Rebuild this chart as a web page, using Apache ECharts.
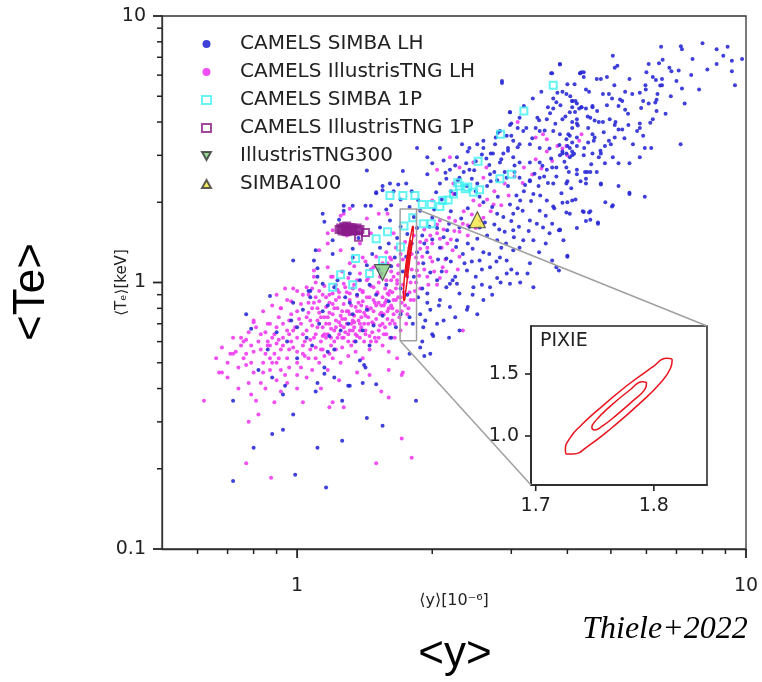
<!DOCTYPE html>
<html><head><meta charset="utf-8">
<script src="https://cdn.jsdelivr.net/npm/echarts@6/dist/echarts.min.js"></script>
<style>html,body{margin:0;padding:0;background:#fff}#c{width:762px;height:682px}</style>
</head><body><div id="c"></div>
<script>
// ---- tick values ----
const xMajorTicks = [1, 10];
const xMinorTicks = [0.6, 0.7, 0.8, 0.9, 2, 3, 4, 5, 6, 7, 8, 9];
const yMajorTicks = [0.1, 1, 10];
const yMinorTicks = [0.2, 0.3, 0.4, 0.5, 0.6, 0.7, 0.8, 0.9, 2, 3, 4, 5, 6, 7, 8, 9];
const insetXTicks = [1.7, 1.8];
const insetYTicks = [1.0, 1.5];
const xRange = [0.5, 10];
const yRange = [0.1, 10];
const zoomBoxX = [1.696, 1.845];
const zoomBoxY = [0.605, 1.887];
const legendNames = ['CAMELS SIMBA LH', 'CAMELS IllustrisTNG LH', 'CAMELS SIMBA 1P', 'CAMELS IllustrisTNG 1P', 'IllustrisTNG300', 'SIMBA100'];

// ---- data ----
const simbaLH = [
[0.72,0.36],[0.72,0.18],[0.80,0.24],[0.88,0.27],[0.93,0.28],[0.94,0.41],[0.93,0.38],[0.88,0.44],[0.98,0.32],[0.99,0.19],
[1.11,0.24],[1.16,0.17],[1.11,0.42],[1.10,0.39],[1.15,0.455],[1.21,0.44],[1.26,0.36],[1.26,0.255],[1.30,0.41],[1.40,0.42],
[1.41,0.49],[1.43,0.31],[1.50,0.415],[1.55,0.29],[1.84,0.36],[0.87,0.89],[0.77,0.76],[0.79,0.67],[0.82,0.47],[0.86,0.56],
[0.97,0.72],[1.00,0.52],[0.98,0.84],[1.11,1.05],[1.06,0.93],[1.15,0.48],[1.17,0.55],[1.21,0.56],[1.31,0.41],[1.42,0.48],
[1.38,0.51],[1.18,0.63],[1.48,0.69],[1.33,0.76],[1.43,0.79],[1.31,0.84],[1.17,0.82],[1.03,0.79],[1.07,0.88],[1.21,0.96],
[1.38,1.02],[1.14,1.81],[0.98,1.21],[1.27,1.94],[1.33,1.94],[1.42,1.94],[1.55,2.30],[1.68,2.33],[1.24,1.72],[1.20,1.44],
[1.10,1.32],[1.33,1.34],[1.43,2.63],[1.50,2.16],[1.55,2.22],[1.75,2.35],[1.15,1.69],[1.27,1.86],[1.46,1.94],[1.20,1.28],
[1.09,1.21],[1.11,1.13],[1.37,1.47],[1.33,1.24],[1.43,1.16],[1.31,1.08],[1.23,1.02],[1.47,1.28],[1.65,1.24],[1.67,1.47],
[1.53,1.35],[1.61,1.71],[1.53,1.61],[1.14,0.99],[1.07,0.93],[1.61,2.35],[1.50,2.18],[1.85,3.20],[1.95,2.95],
[1.88,1.86],[2.00,1.75],[2.16,1.57],[2.30,1.61],[2.27,1.44],[2.08,1.35],[2.15,1.23],[2.34,1.28],[2.39,1.11],[2.55,1.21],
[2.69,1.14],[2.83,1.24],[2.93,1.08],[2.69,0.96],[2.47,0.96],[2.27,0.99],[2.15,0.96],[2.05,1.02],[1.98,1.09],[1.91,1.18],
[1.95,0.91],[2.08,0.86],[2.19,0.81],[2.39,0.79],[1.88,0.76],[1.91,0.68],[2.00,0.64],[1.98,0.54],[1.88,0.57],[2.55,1.61],
[2.79,1.44],[3.03,1.57],[3.19,1.44],[3.03,1.81],[3.30,1.71],[3.47,1.86],[3.70,1.66],[3.83,1.57],[3.30,1.18],[3.70,1.21],
[3.83,1.11],[3.36,0.96],[3.03,1.32],[2.79,1.81],[3.14,2.03],[3.36,2.15],[3.60,2.03],[3.90,1.99],[4.05,1.81],[2.30,0.66],
[1.81,0.70],[1.98,0.79],[1.78,0.54],[1.78,0.74],[1.70,0.76],[2.07,0.82],[2.40,0.81],[1.93,0.72],[2.01,0.63],[1.90,0.60],
[1.92,0.53],[5.50,2.15],[5.95,2.10],[5.05,1.95],[4.68,1.68],[4.50,1.85],[4.33,1.85],[4.00,1.26],[3.78,1.14],[2.98,0.99],
[3.09,1.08],[2.79,1.04],[2.93,1.21],[3.13,1.35],[3.36,1.44],[3.53,1.61],[3.65,1.53],[3.85,1.57],[4.10,2.03],[3.72,1.93],
[4.00,2.40],[4.20,2.55],[4.43,2.60],[4.75,2.35],[2.60,0.86],[2.52,0.76],[2.30,0.91],[2.19,0.99],
[1.05,0.62],[1.12,0.70],[1.25,0.66],[1.35,0.60],[1.45,0.58],[1.50,0.90],[1.55,0.75],[1.60,0.85],[1.62,0.62],[1.66,0.68],
[1.58,0.98],[1.70,0.95],[1.72,1.10],[1.75,1.25],[1.80,1.40],[1.85,1.60],[1.90,1.50],[1.76,0.90],[1.82,1.05],[1.70,1.62],
[1.60,1.40],[1.62,1.15],[1.52,1.12],[1.45,0.98],[1.28,0.88],[0.95,0.60],[0.90,0.65],[1.00,0.68],[1.08,0.58],[1.30,0.70],
[1.40,0.66],[1.36,0.90],[1.14,0.78],[1.90,0.95],[1.95,1.30],[2.00,1.45],[2.05,1.60],[2.10,1.10],[2.20,1.20],[2.25,1.05],
[2.40,1.40],[2.45,1.20],[2.50,1.05],[2.60,1.30],[2.65,1.50],[2.75,1.65],[2.85,1.35],[2.90,1.55],[3.00,1.70],[3.10,1.90],
[3.20,2.20],[3.30,2.40],[3.45,2.30],[3.55,2.50],[3.70,2.70],[2.20,1.85],[2.40,1.90],[2.60,2.00],[2.80,2.10],[2.95,2.30],
[3.05,2.60],[2.50,2.20],[2.70,2.40],[2.90,2.60],[2.35,2.60],[2.20,2.20],[2.55,2.10],[2.65,2.30],[2.75,2.60],[2.85,2.90],
[2.95,3.20],[3.05,2.75],[2.70,3.05],[2.45,2.45],[2.50,2.85],[2.40,3.10],[2.25,2.75],[2.15,2.45],[2.10,2.05],[2.25,2.15],
[2.60,3.40],[2.80,3.65],[2.86,5.70],[2.98,4.35],[3.00,3.95],[3.20,4.60],[3.35,4.90],[3.50,5.20],[3.70,6.10],[3.85,6.60],
[4.30,6.15],[4.27,6.10],[5.05,7.10],[5.17,6.50],[4.55,4.60],[4.30,4.55],
[6.47,7.67],[7.16,7.70],[7.20,7.50],[8.00,7.90],[8.60,7.50],[9.10,7.67],[9.80,6.90],[9.30,6.80],[9.30,6.20],[9.45,5.50],
[8.60,6.60],[7.60,6.90],[7.86,5.30],[7.20,5.35],[7.08,6.25],[6.75,6.40],[6.82,6.20],[6.52,6.85],[6.40,6.65],[6.07,6.60],
[6.00,6.15],[6.20,5.90],[6.30,5.75],[6.50,5.80],[6.50,5.50],[5.97,5.50],[6.35,5.10],[6.32,4.85],[6.07,4.70],[5.90,4.80],
[6.32,4.40],[6.20,4.10],[5.80,5.15],[5.50,5.80],[5.38,5.20],[5.09,5.50],[5.10,6.40],[4.90,5.90],[4.75,5.80],[4.65,5.80],
[4.80,5.10],[4.95,5.10],[5.03,4.90],[5.20,4.60],[5.30,4.80],[5.38,4.45],[5.47,3.90],[5.30,3.75],[5.20,3.75],[5.10,3.90],
[4.97,4.10],[4.80,4.00],[4.70,4.00],[4.60,4.05],[4.50,4.15],[4.55,4.55],[4.40,4.50],[4.17,4.80],[4.10,4.55],[4.25,4.50],
[4.20,4.10],[4.20,3.95],[4.10,3.80],[4.05,3.55],[4.20,3.50],[4.10,3.35],[4.00,3.25],[3.90,3.10],[3.90,3.05],[4.10,3.10],
[4.45,3.80],[4.55,3.60],[4.60,3.50],[4.45,3.35],[4.95,3.40],[5.10,3.50],[4.85,3.25],[5.05,2.95],[5.20,2.80],[4.85,2.80],
[4.75,3.05],[4.70,2.95],[4.55,3.05],[4.35,3.00],[4.05,2.95],[4.03,2.60],[4.38,2.60],[4.50,2.60],[4.65,2.60],[4.40,2.45],
[4.40,2.35],[4.75,2.33],[5.50,2.80],[5.80,2.95],[5.60,3.30],[5.95,3.20],[6.15,3.20],[5.80,3.80],[5.90,3.55],[5.80,3.95],
[7.15,3.30],[5.50,2.17],[5.03,1.93],[4.17,2.05],[4.00,2.00],[3.98,1.83],[4.35,1.84],[4.47,1.83],[4.50,1.72],[4.68,1.66],
[3.85,1.58],[4.00,1.25],[3.85,6.58],[4.27,6.10],[4.35,6.15],[4.35,5.90],[4.15,5.55],[4.00,5.55],[3.90,5.20],[4.40,5.30],
[4.47,5.20],[4.10,4.80],[4.30,4.55],[3.68,6.10],[3.80,5.15],[3.98,5.10],[2.86,5.60],[3.72,4.90],[3.78,4.75],[4.10,4.80],
[4.20,4.70],[3.62,4.55],[3.72,4.50],[4.05,4.35],[2.98,4.35],[3.13,4.15],[3.43,4.15],[3.60,4.10],[3.90,4.10],[4.10,4.00],
[2.98,3.90],[3.10,3.80],[3.19,3.70],[3.40,3.80],[3.47,3.70],[3.72,3.70],[3.85,3.60],[3.98,3.45],[4.05,3.20],[4.20,3.25],
[2.83,3.70],[2.77,3.50],[2.93,3.55],[3.03,3.40],[3.13,3.30],[3.30,3.30],[3.47,3.20],[3.65,3.18],[3.85,3.00],[3.98,3.05],
[4.10,3.00],[2.95,3.12],[2.73,3.05],[2.60,3.20],[2.52,3.30],[2.42,3.20],[2.33,3.30],[2.64,2.92],[2.83,2.82],[3.03,2.95],
[3.13,2.82],[3.30,2.82],[3.47,2.82],[3.60,2.65],[3.78,2.70],[3.98,2.70],[4.20,2.65],[2.27,2.95],[2.08,3.20],[2.12,2.87],
[2.00,2.80],[1.95,2.55],[2.19,2.65],[2.30,2.47],[2.42,2.65],[2.52,2.35],[2.69,2.55],[2.79,2.42],[2.93,2.47],[3.13,2.47],
[3.30,2.42],[3.47,2.47],[3.72,2.35],[3.98,2.35],[2.39,2.30],[2.08,2.35],
[1.85,1.30],[1.92,1.40],[1.97,1.62],[2.02,1.88],[2.06,1.22],[2.12,1.48],[2.18,1.66],[2.22,1.02],[2.26,1.36],[2.32,1.74],
[2.36,1.18],[2.42,1.62],[2.46,1.34],[2.52,1.46],[2.58,1.12],[2.62,1.68],[2.68,1.28],[2.72,1.92],[2.78,1.20],[2.82,1.58],
[2.88,1.76],[2.92,1.40],[2.98,1.96],[3.04,1.48],[3.08,2.12],[3.12,1.62],[3.18,1.86],[3.22,2.32],[3.28,1.56],[3.32,2.02],
[3.38,2.56],[3.42,1.66],[3.48,2.12],[3.52,2.74],[3.58,1.78],[3.62,2.36],[3.68,2.92],[3.74,1.90],[3.78,2.50],[3.84,3.28],
[3.88,2.16],[3.94,2.84],[4.02,3.60],[4.08,2.26],[4.14,3.04],[4.22,3.88],[4.28,2.40],[4.36,3.20],[4.44,4.20],[4.52,2.78],
[4.58,3.40],[4.66,4.40],[4.74,3.12],[4.82,3.66],[4.90,4.62],[5.00,3.30],[5.12,4.00],[5.24,4.86],[5.36,3.48],[5.46,4.30],
[5.58,5.10],[5.72,3.70],[5.84,4.52],[5.98,5.30],[6.12,3.98],[6.28,4.74],[6.44,5.48],[6.62,4.30],[6.80,5.00],[7.00,5.70],
[7.30,4.70],[7.55,6.00],[8.20,6.30],[8.90,7.10],[2.04,2.18],[2.14,2.58],[2.28,2.42],[2.38,2.80],[2.48,2.64],[2.58,3.02],
[2.68,2.76],[2.76,3.30],[2.88,3.05],[3.00,3.55],[3.10,3.22],[3.24,3.80],[3.34,3.48],[3.46,4.06],[3.56,3.72],[3.66,4.32],
[3.76,3.94],[3.86,4.62],[3.96,4.20],[4.06,5.00],[4.16,4.36],[1.76,1.52],[1.82,1.76],[1.86,2.04],[1.78,1.92],[1.70,2.05],
[1.62,1.95],[1.64,2.20],[1.58,1.88],[1.72,2.62],[1.80,2.20],[2.46,0.90],[2.58,0.98],[2.72,0.90],[2.84,1.00],[3.00,1.12],
[3.14,1.00],[3.26,1.08],[3.46,1.30],[3.58,1.40],[3.92,1.44],[4.20,1.60],[4.40,1.70],[4.86,2.00],[5.20,2.30],[2.12,0.72],
[2.25,0.74],[2.18,0.62],[2.05,0.70],[1.95,0.84],[1.86,0.88]
];

const tngLH = [
[0.90,0.50],[0.92,0.56],[0.95,0.52],[0.97,0.60],[0.98,0.66],[1.00,0.55],[1.00,0.62],[1.02,0.70],[1.03,0.58],[1.05,0.66],
[1.05,0.74],[1.06,0.52],[1.07,0.61],[1.08,0.69],[1.08,0.80],[1.10,0.57],[1.10,0.64],[1.11,0.72],[1.12,0.77],[1.12,0.85],
[1.13,0.60],[1.14,0.68],[1.15,0.53],[1.15,0.74],[1.16,0.81],[1.17,0.64],[1.18,0.70],[1.18,0.90],[1.19,0.58],[1.20,0.76],
[1.20,0.83],[1.21,0.66],[1.22,0.72],[1.23,0.62],[1.23,0.80],[1.24,0.88],[1.25,0.69],[1.25,0.75],[1.26,0.57],[1.27,0.83],
[1.28,0.65],[1.28,0.73],[1.29,0.92],[1.30,0.78],[1.30,0.60],[1.31,0.86],[1.32,0.70],[1.33,0.66],[1.33,0.95],[1.34,0.75],
[1.35,0.81],[1.36,0.63],[1.36,0.89],[1.37,0.72],[1.38,0.78],[1.39,0.68],[1.40,0.85],[1.40,0.93],[1.41,0.60],[1.42,0.75],
[1.43,0.81],[1.44,0.70],[1.45,0.88],[1.46,0.97],[1.47,0.65],[1.48,0.78],[1.49,0.84],[1.50,0.73],[1.51,0.92],[1.52,1.00],
[1.53,0.69],[1.54,0.82],[1.55,0.88],[1.56,0.76],[1.57,0.95],[1.58,0.64],[1.60,0.80],[1.60,0.90],[1.62,1.02],[1.63,0.72],
[1.64,0.86],[1.66,0.95],[1.67,0.78],[1.68,1.08],[1.70,0.88],[1.72,0.98],[1.74,0.82],[1.76,1.05],[1.78,0.92],[1.80,1.12],
[1.82,0.86],[1.84,1.00],[1.86,1.18],[1.88,0.95],
[0.80,0.55],[0.82,0.60],[0.84,0.50],[0.85,0.65],[0.86,0.58],[0.87,0.70],[0.88,0.62],[0.89,0.54],[0.90,0.68],[0.91,0.74],
[0.93,0.62],[0.94,0.45],[0.96,0.48],[0.75,0.58],[0.76,0.52],[0.78,0.65],[0.72,0.62],[0.73,0.55],[0.70,0.50],[0.68,0.57],
[0.80,0.46],[0.83,0.42],[0.87,0.47],[0.90,0.43],[0.95,0.42],[1.00,0.45],[1.02,0.48],[1.05,0.44],[1.08,0.47],[1.12,0.50],
[1.17,0.47],[1.20,0.52],[1.25,0.50],[1.30,0.53],[1.35,0.55],[1.40,0.52],[1.45,0.56],[1.50,0.60],[1.55,0.58],[1.60,0.55],
[1.65,0.62],[1.70,0.66],[1.75,0.70],[1.00,0.78],[0.96,0.72],[0.92,0.80],[0.97,0.85],[1.03,0.90],[1.08,0.95],[1.10,1.00],
[1.15,0.97],[1.19,1.05],[1.22,0.98],[1.26,1.10],[1.30,1.04],[1.34,1.15],[1.38,1.08],[1.42,1.20],[1.46,1.12],[1.50,1.25],
[1.55,1.18],[1.58,1.30],[1.62,1.22],[1.66,1.35],[1.70,1.28],[1.74,1.42],[1.78,1.35],[1.82,1.50],[1.88,1.42],[1.92,1.58],
[1.98,1.50],[2.05,1.65],[2.12,1.58],[2.18,1.75],[2.25,1.70],[2.35,1.85],[2.45,1.80],[2.55,1.95],[2.65,2.05],[2.75,2.20],
[2.90,2.35],[3.05,2.50],[3.20,2.70],[3.40,2.90],[3.60,3.10],[3.80,3.25],[2.00,1.20],[2.10,1.35],[2.20,1.45],[2.30,1.55],
[1.95,1.05],[1.90,1.25],[2.05,0.98],[2.15,1.10],[2.30,1.25],[2.40,1.50],[2.50,1.60],[2.60,1.75],[2.70,1.85],[2.85,1.95],
[1.27,1.81],[1.17,1.53],[1.09,1.11],[1.00,0.93],[0.95,0.86],[0.86,0.70],[0.90,0.59],[0.72,0.54],[0.67,0.46],[0.77,0.61],
[1.31,1.89],[1.25,1.78],[1.43,1.74],[1.52,1.81],[1.20,1.57],[1.29,1.50],[1.38,1.40],[1.46,1.53],[1.17,1.40],[1.12,1.32],
[1.25,1.32],[1.31,1.18],[1.40,1.24],[1.48,1.14],[1.59,1.18],[1.17,1.14],[1.09,1.05],[1.20,1.05],[1.27,0.99],[1.36,1.02],
[1.43,1.02],[1.53,1.05],[1.64,1.05],[1.05,0.96],[1.12,0.93],[1.20,0.91],[1.31,0.91],[1.40,0.92],[1.51,0.91],[1.61,0.93],
[1.67,0.99],[1.59,1.81],[1.64,1.53],[1.61,1.24],[1.67,1.02],[1.59,0.91],[1.64,0.76],[1.61,0.62],[1.67,0.52],[1.72,0.46],
[2.34,0.66],[1.95,1.35],[2.05,1.53],[1.98,1.24],[1.85,1.11],[2.11,1.14],[2.23,2.15],[2.47,2.03],[2.00,2.03],[2.34,1.66],
[2.08,1.71],[3.10,4.00],[3.60,3.45],[3.53,3.60],[3.40,3.50],[2.64,2.70],[2.30,2.70],[2.19,2.95],[2.47,2.82],[3.90,3.18],
[2.60,2.47],[2.23,2.35],[2.05,2.65],[4.30,3.60],[4.25,3.40],[3.98,3.25],
[0.62,0.36],[0.68,0.46],[0.71,0.54],[0.76,0.60],[0.77,0.21],[0.875,0.185],[0.78,0.30],[0.81,0.36],[0.82,0.32],[1.03,0.355],
[1.18,0.34],[1.27,0.34],[1.50,0.21],[0.77,0.49],[0.78,0.42],[0.89,0.355],[1.00,0.40],[1.20,0.355],[1.54,0.39],[1.60,0.37],
[1.71,0.26],[1.80,0.22],[1.71,0.45],[0.74,0.40],[0.79,0.38],[0.85,0.40],[0.92,0.39],[1.13,0.40],[1.24,0.43],[1.36,0.46],
[1.45,0.45],[1.60,0.47],[0.66,0.52],[0.70,0.44],[0.84,0.78],[0.88,0.82],[0.90,0.90],[0.94,0.95],[0.80,0.72],[0.80,0.71],
[0.86,0.60],[0.92,0.80],[0.98,0.95],[1.03,0.64],[1.06,0.77],[1.09,0.84],[1.13,0.56],[1.16,0.62],[1.19,0.67],[1.22,0.86],
[1.27,0.62],[1.29,0.78],[1.32,0.58],[1.34,0.68],[1.37,0.84],[1.39,0.74],[1.42,0.66],[1.44,0.79],[1.47,0.71],[1.49,0.62],
[1.52,0.84],[1.54,0.77],[1.57,0.68],[1.59,0.73],[1.62,0.82],[1.65,0.70],[1.68,0.88],[1.71,0.78],[1.73,0.92],[1.77,0.80],
[1.79,1.00],[1.83,0.93],[1.87,1.06],[1.92,1.12],[1.96,0.98],[2.02,1.10],[2.08,1.04],[2.14,1.22],[2.22,1.32],[2.28,1.12],
[1.02,0.83],[1.04,0.53],[1.07,0.72],[1.11,0.80],[1.14,0.63],[1.17,0.74],[1.21,0.60],[1.24,0.71],[1.26,0.78],[1.31,0.66],
[1.33,0.72],[1.35,0.64],[1.38,0.70],[1.41,0.77],[1.45,0.63],[1.48,0.86],[1.52,0.66],[1.56,0.82],[1.58,0.86],[1.63,0.92],
[0.98,0.57],[0.96,0.64],[0.93,0.70],[0.91,0.61],[0.87,0.52],[0.83,0.56],[0.79,0.50],[0.74,0.48],[1.16,0.88],[1.23,0.94],
[1.01,0.73],[1.04,0.60],[1.06,0.84],[1.09,0.62],[1.11,0.68],[1.13,0.74],[1.15,0.64],[1.16,0.70],[1.18,0.77],[1.19,0.62],
[1.21,0.80],[1.22,0.68],[1.24,0.64],[1.26,0.73],[1.27,0.68],[1.29,0.70],[1.31,0.76],[1.32,0.82],[1.34,0.71],[1.36,0.78],
[1.38,0.66],[1.39,0.82],[1.41,0.70],[1.43,0.88],[1.44,0.74],[1.46,0.80],[1.48,0.70],[1.50,0.82],[1.53,0.76],[1.55,0.70],
[1.57,0.84],[1.59,0.78],[1.61,0.70],[1.63,0.80],[1.66,0.86],[1.69,0.74],[1.71,0.84],[1.74,0.90],[1.76,0.76],[1.79,0.86],
[0.99,0.68],[0.97,0.76],[0.95,0.66],[0.93,0.58],[0.91,0.52],[0.89,0.64],[0.87,0.58],[0.85,0.54],[0.83,0.64],[0.81,0.68],
[0.79,0.58],[0.77,0.54],[0.75,0.62],[0.84,0.46],[0.88,0.50],[0.92,0.47],[0.96,0.56],[1.00,0.50],[1.03,0.54],[1.07,0.56],
[1.10,0.52],[1.14,0.56],[1.18,0.54],[1.22,0.56],[1.26,0.62],[1.30,0.64],[1.34,0.60],[1.38,0.62],[1.42,0.64],[1.46,0.60],
[1.52,0.62],[1.56,0.64],[1.18,0.84],[1.14,0.90],[1.10,0.88],[1.06,0.90],[1.24,0.92],[1.28,0.96],[1.34,0.98],[1.38,0.94],
[1.44,1.04],[1.48,0.96],[1.54,1.08],[1.58,1.02],[1.62,1.10],[1.68,1.16],[1.72,1.22],[1.76,1.14],[1.80,1.28],[1.84,1.24],
[1.88,1.34],[1.94,1.44],[2.00,1.40],[2.08,1.46],[2.16,1.40],[2.24,1.56],[2.40,1.64],[2.56,1.70],[2.74,1.96],[2.96,2.12],
[3.18,2.36],[3.34,2.54],[3.50,2.68],[3.70,2.86],[4.00,3.00]
];

const simba1P = [
[1.20,0.96],[1.25,1.07],[1.33,0.98],[1.35,1.23],[1.45,1.08],[1.50,1.46],[1.55,1.21],[1.59,1.55],[1.61,2.12],[1.70,1.36],
[1.72,2.12],[1.73,1.63],[1.81,1.75],[1.83,2.12],[1.90,1.96],[1.91,1.66],[1.99,1.66],[1.99,1.96],[2.08,1.93],[2.11,2.03],
[2.17,2.04],[2.23,2.15],[2.28,2.37],[2.30,2.30],[2.37,2.25],[2.40,2.28],[2.47,2.18],[2.53,2.85],[2.55,2.23],[2.83,2.45],
[2.84,3.60],[3.00,2.55],[3.20,4.40],[3.72,5.50]
];

const tng1P = [
[1.25,1.60],[1.26,1.58],[1.27,1.62],[1.28,1.56],[1.28,1.60],[1.29,1.63],[1.30,1.58],[1.30,1.56],[1.31,1.61],[1.32,1.57],
[1.33,1.60],[1.33,1.56],[1.34,1.58],[1.35,1.57],[1.36,1.60],[1.37,1.56],[1.24,1.58],[1.26,1.56],[1.29,1.55],[1.38,1.58],
[1.42,1.54],[1.37,1.48]
];

const tng300 = [[1.55, 1.09]];
const simba100 = [[2.52, 1.72]];

// contour outlines (loops start mid-edge, last points overlap the start)
const pixieOuter = [
[1.7542,1.223],[1.7768,1.403],[1.7994,1.559],[1.8107,1.626],[1.8155,1.613],[1.8141,1.546],[1.8065,1.438],[1.7881,1.263],
[1.7655,1.075],[1.7443,0.919],[1.7316,0.855],[1.7260,0.855],[1.7251,0.887],[1.7288,0.981],[1.7387,1.089],[1.7542,1.223],
[1.7768,1.403]
];
const pixieInner = [
[1.7627,1.237],[1.7797,1.371],[1.7904,1.438],[1.7938,1.425],[1.7924,1.376],[1.7825,1.285],[1.7684,1.169],[1.7557,1.075],
[1.7500,1.048],[1.7475,1.070],[1.7508,1.124],[1.7627,1.237],[1.7797,1.371]
];

// ---- chart ----
const FONT = 'DejaVu Sans';
const chart = echarts.init(document.getElementById('c'), null, {renderer: 'canvas'});
const fmtLog = v => String(+(+v).toPrecision(3));
const axisCol = '#222';

const zoomBox = [
  [zoomBoxX[0], zoomBoxY[0]], [zoomBoxX[1], zoomBoxY[0]], [zoomBoxX[1], zoomBoxY[1]],
  [zoomBoxX[0], zoomBoxY[1]], [zoomBoxX[0], zoomBoxY[0]]
];

const labelStyle = {fontSize: 19, color: '#222', fontFamily: FONT};

const legendData = legendNames.map(n => n === 'IllustrisTNG300'
  ? {name: n, icon: 'path://M0,0 L10,0 L5,9 Z'}
  : {name: n});

const option = {
  animation: false,
  backgroundColor: '#fff',
  textStyle: {fontFamily: FONT},
  grid: [
    {left: 162, top: 16, width: 584, height: 533, show: true, borderColor: '#333', borderWidth: 1.3,
     backgroundColor: 'transparent', containLabel: false, outerBoundsMode: 'none'},
    {left: 531, top: 326, width: 176, height: 159, show: true, borderColor: '#222', borderWidth: 1.5,
     backgroundColor: '#fff', containLabel: false, outerBoundsMode: 'none'}
  ],
  title: {text: 'PIXIE', left: 540, top: 332, padding: 0,
    textStyle: {fontSize: 19, fontWeight: 'normal', color: '#222', fontFamily: FONT}},
  legend: {
    data: legendData, orient: 'vertical', left: 196, top: 28,
    itemWidth: 9, itemHeight: 8, itemGap: 6, selectedMode: false,
    formatter: '{p| }{name}',
    textStyle: {fontSize: 20, color: '#222', fontFamily: FONT, lineHeight: 22,
      rich: {p: {width: 24, fontSize: 20, lineHeight: 22}}}
  },
  xAxis: [
    {type: 'log', gridIndex: 0, min: xRange[0], max: xRange[1], position: 'bottom',
     axisLine: {show: true, lineStyle: {color: '#333', width: 1.3}},
     axisTick: {show: false},
     axisLabel: Object.assign({customValues: xMajorTicks, formatter: fmtLog, margin: 28}, labelStyle),
     splitLine: {show: false}, minorTick: {show: false},
     name: '⟨y⟩[10⁻⁶]', nameLocation: 'middle', nameGap: 44, nameMoveOverlap: false,
     nameTextStyle: {fontSize: 16, color: '#222', fontFamily: FONT}},
    {type: 'value', gridIndex: 1, min: zoomBoxX[0], max: zoomBoxX[1], position: 'bottom',
     axisLine: {show: true, lineStyle: {color: '#222', width: 1.5}},
     axisTick: {show: false},
     axisLabel: Object.assign({customValues: insetXTicks, formatter: v => (+v).toFixed(1), margin: 12}, labelStyle),
     splitLine: {show: false}}
  ],
  yAxis: [
    {type: 'log', gridIndex: 0, min: yRange[0], max: yRange[1], position: 'left',
     axisLine: {show: true, lineStyle: {color: '#333', width: 1.3}},
     axisTick: {show: false},
     axisLabel: Object.assign({customValues: yMajorTicks, formatter: fmtLog, margin: 16}, labelStyle),
     splitLine: {show: false}, minorTick: {show: false},
     name: '⟨Tₑ⟩[keV]', nameLocation: 'middle', nameGap: 32, nameRotate: 90, nameMoveOverlap: false,
     nameTextStyle: {fontSize: 15, color: '#222', fontFamily: FONT}},
    {type: 'value', gridIndex: 1, min: zoomBoxY[0], max: zoomBoxY[1], position: 'left',
     axisLine: {show: true, lineStyle: {color: '#222', width: 1.5}},
     axisTick: {show: false},
     axisLabel: Object.assign({customValues: insetYTicks, formatter: v => (+v).toFixed(1), margin: 12}, labelStyle),
     splitLine: {show: false}}
  ],
  series: [
    {name: 'CAMELS IllustrisTNG LH', type: 'scatter', xAxisIndex: 0, yAxisIndex: 0, data: tngLH,
     symbol: 'circle', symbolSize: 4, itemStyle: {color: '#f03cf0', opacity: 0.9}, z: 2},
    {name: 'CAMELS SIMBA LH', type: 'scatter', xAxisIndex: 0, yAxisIndex: 0, data: simbaLH,
     symbol: 'circle', symbolSize: 4, itemStyle: {color: '#2a2ad6', opacity: 0.9}, z: 3},
    {name: 'CAMELS SIMBA 1P', type: 'scatter', xAxisIndex: 0, yAxisIndex: 0, data: simba1P,
     symbol: 'rect', symbolSize: 7, itemStyle: {color: 'rgba(255,255,255,0)', borderColor: '#3ef0f0', borderWidth: 2}, z: 4},
    {name: 'CAMELS IllustrisTNG 1P', type: 'scatter', xAxisIndex: 0, yAxisIndex: 0, data: tng1P,
     symbol: 'rect', symbolSize: 7, itemStyle: {color: 'rgba(255,255,255,0)', borderColor: '#8a1a8a', borderWidth: 2}, z: 4},
    {name: 'IllustrisTNG300', type: 'scatter', xAxisIndex: 0, yAxisIndex: 0, data: tng300,
     symbol: 'triangle', symbolRotate: 180, symbolSize: 16,
     itemStyle: {color: '#7fce7f', borderColor: '#333', borderWidth: 1.2}, z: 6},
    {name: 'SIMBA100', type: 'scatter', xAxisIndex: 0, yAxisIndex: 0, data: simba100,
     symbol: 'triangle', symbolSize: 16,
     itemStyle: {color: '#f2e640', borderColor: '#333', borderWidth: 1.2}, z: 6},
    {name: 'zoombox', type: 'line', xAxisIndex: 0, yAxisIndex: 0, data: zoomBox, showSymbol: false,
     lineStyle: {color: '#a0a0a0', width: 1.5}, z: 5, silent: true},
    {name: 'pixieOuterMain', type: 'line', xAxisIndex: 0, yAxisIndex: 0, data: pixieOuter, smooth: 0.5, showSymbol: false,
     lineStyle: {color: '#e8141e', width: 1.5}, z: 7, silent: true},
    {name: 'pixieInnerMain', type: 'line', xAxisIndex: 0, yAxisIndex: 0, data: pixieInner, smooth: 0.5, showSymbol: false,
     lineStyle: {color: '#e8141e', width: 1.5}, z: 7, silent: true},
    {name: 'pixieOuterInset', type: 'line', xAxisIndex: 1, yAxisIndex: 1, data: pixieOuter, smooth: 0.5, showSymbol: false,
     lineStyle: {color: '#e8141e', width: 1.5}, z: 7, silent: true},
    {name: 'pixieInnerInset', type: 'line', xAxisIndex: 1, yAxisIndex: 1, data: pixieInner, smooth: 0.5, showSymbol: false,
     lineStyle: {color: '#e8141e', width: 1.5}, z: 7, silent: true}
  ]
};
chart.setOption(option);

const px = (xi, yi, pt) => chart.convertToPixel({xAxisIndex: xi, yAxisIndex: yi}, pt);
const graphics = [];
// tick marks, positioned through the axes' own scales
function addTicks(xi, yi, vals, dir, len, w, other) {
  vals.forEach(v => {
    const p = px(xi, yi, dir === 'x' ? [v, other] : [other, v]);
    graphics.push({
      type: 'line', z: 10,
      shape: dir === 'x' ? {x1: p[0], y1: p[1], x2: p[0], y2: p[1] + len}
                         : {x1: p[0] - len, y1: p[1], x2: p[0], y2: p[1]},
      style: {stroke: axisCol, lineWidth: w}
    });
  });
}
addTicks(0, 0, xMajorTicks, 'x', 9, 1.8, yRange[0]);
addTicks(0, 0, xMinorTicks, 'x', 5, 1.5, yRange[0]);
addTicks(0, 0, yMajorTicks, 'y', 9, 1.8, xRange[0]);
addTicks(0, 0, yMinorTicks, 'y', 5, 1.5, xRange[0]);
addTicks(1, 1, insetXTicks, 'x', 6, 1.6, zoomBoxY[0]);
addTicks(1, 1, insetYTicks, 'y', 6, 1.6, zoomBoxX[0]);

const a = px(0, 0, [zoomBoxX[1], zoomBoxY[1]]);
const b = px(1, 1, [zoomBoxX[1], zoomBoxY[1]]);
const c = px(0, 0, [zoomBoxX[0], zoomBoxY[0]]);
const d = px(1, 1, [zoomBoxX[0], zoomBoxY[0]]);
graphics.push(
  {type: 'line', z: 5, shape: {x1: a[0], y1: a[1], x2: b[0], y2: b[1]}, style: {stroke: '#a0a0a0', lineWidth: 1.5}},
  {type: 'line', z: 5, shape: {x1: c[0], y1: c[1], x2: d[0], y2: d[1]}, style: {stroke: '#a0a0a0', lineWidth: 1.5}},
  {type: 'text', x: 32, y: 292, rotation: Math.PI / 2,
   style: {text: '<Te>', font: '44px "Liberation Sans"', fill: '#000', textAlign: 'center', textVerticalAlign: 'middle'}},
  {type: 'text', x: 455, y: 655,
   style: {text: '<y>', font: '44px "Liberation Sans"', fill: '#000', textAlign: 'center', textVerticalAlign: 'middle'}},
  {type: 'text', x: 665, y: 630,
   style: {text: 'Thiele+2022', font: 'italic 32px "Liberation Serif"', fill: '#000', textAlign: 'center', textVerticalAlign: 'middle'}}
);
chart.setOption({graphic: graphics});
</script>
</body></html>
